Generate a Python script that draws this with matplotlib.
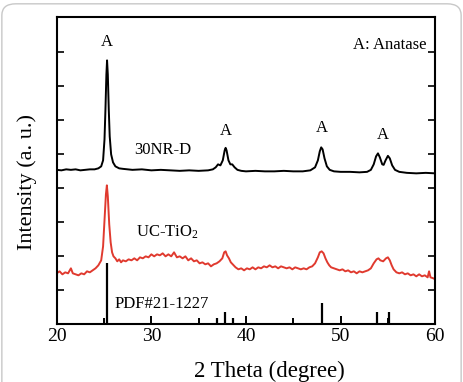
import matplotlib
matplotlib.use("Agg")
import matplotlib.pyplot as plt
from matplotlib.patches import FancyBboxPatch

plt.rcParams["font.family"] = ["Liberation Serif", "DejaVu Serif"]
plt.rcParams["mathtext.default"] = "regular"

# --- data (arbitrary intensity units)
nr_x = [20.0, 20.5, 21.0, 21.5, 22.0, 22.5, 23.0, 23.5, 24.0, 24.4, 24.7, 24.9,
        25.05, 25.15, 25.25, 25.32, 25.4, 25.5, 25.6, 25.75, 25.95, 26.2, 26.6,
        27.0, 27.5, 28.0, 29.0, 30.0, 31.0, 32.0, 33.0, 34.0, 35.0, 36.0, 36.5,
        36.8, 37.05, 37.3, 37.55, 37.75, 37.85, 37.95, 38.15, 38.35, 38.55, 38.8,
        39.1, 39.5, 40.0, 41.0, 42.0, 43.0, 44.0, 45.0, 46.0, 46.8, 47.3, 47.6,
        47.8, 47.95, 48.1, 48.3, 48.55, 48.85, 49.3, 50.0, 51.0, 52.0, 52.8, 53.2,
        53.5, 53.75, 53.95, 54.15, 54.4, 54.55, 54.75, 55.0, 55.2, 55.45, 55.75,
        56.2, 57.0, 58.0, 59.0, 60.0]
nr_y = [154.5, 154, 155, 154.5, 155, 154, 154.5, 155, 155, 156, 158, 164,
        185, 215, 250, 264, 250, 215, 188, 170, 162, 158, 156,
        155.5, 155, 154.5, 155, 154, 154.5, 154, 153.5, 154, 153.5, 154, 155,
        157, 160, 159, 164, 174, 176.5, 174, 164, 160, 160, 157,
        154.5, 153.5, 153, 153.5, 153, 153, 153.5, 153, 153, 154, 157, 164,
        173, 177, 175, 166, 158, 154.5, 153, 152.5, 152.5, 152, 152.5, 154.5,
        160, 168, 171, 167, 160, 159.5, 164, 168.5, 166, 159, 154.5,
        152.5, 151.5, 151, 151.5, 151]

uc_x = [20.0, 20.3, 20.6, 20.9, 21.2, 21.5, 21.7, 22.0, 22.3, 22.6, 22.9, 23.2,
        23.5, 23.8, 24.1, 24.4, 24.7, 24.9, 25.05, 25.2, 25.3, 25.4, 25.55, 25.7,
        25.85, 26.0, 26.2, 26.4, 26.6, 26.8, 27.0, 27.3, 27.6, 27.9, 28.2, 28.5,
        28.8, 29.1, 29.4, 29.7, 30.0, 30.3, 30.6, 30.9, 31.2, 31.5, 31.8, 32.1,
        32.4, 32.7, 33.0, 33.3, 33.6, 33.9, 34.2, 34.5, 34.8, 35.1, 35.4, 35.7,
        36.0, 36.3, 36.6, 36.9, 37.2, 37.5, 37.7, 37.85, 38.0, 38.2, 38.4, 38.6,
        38.9, 39.2, 39.5, 39.8, 40.1, 40.4, 40.7, 41.0, 41.3, 41.6, 41.9, 42.2,
        42.5, 42.8, 43.1, 43.4, 43.7, 44.0, 44.3, 44.6, 44.9, 45.2, 45.5, 45.8,
        46.1, 46.4, 46.7, 47.0, 47.3, 47.6, 47.8, 48.0, 48.2, 48.4, 48.6, 48.8,
        49.0, 49.3, 49.6, 49.9, 50.2, 50.5, 50.8, 51.1, 51.4, 51.7, 52.0, 52.3,
        52.6, 52.9, 53.2, 53.5, 53.8, 54.0, 54.2, 54.5, 54.8, 55.0, 55.2, 55.4,
        55.6, 55.9, 56.2, 56.5, 56.8, 57.1, 57.4, 57.7, 58.0, 58.3, 58.6, 58.9,
        59.2, 59.35, 59.5, 59.8, 60.0]
uc_y = [51, 53, 50, 52, 51, 56, 51, 50, 49, 51, 50, 53,
        52, 54, 56, 59, 64, 78, 105, 130, 139, 128, 100, 82,
        72, 68, 66, 63, 65, 62, 64, 63, 65, 64, 66, 64,
        67, 66, 68, 67, 70, 68, 70, 69, 71, 68, 70, 68,
        72, 67, 68, 66, 68, 64, 66, 63, 64, 61, 62, 60,
        61, 58, 60, 61, 63, 66, 72, 73, 69, 66, 62, 60,
        57, 55, 56, 54, 56, 55, 57, 55, 57, 56, 58, 57,
        59, 57, 58, 56, 58, 57, 56, 57, 55, 57, 56, 55,
        56, 55, 57, 58, 61, 67, 72, 73, 71, 66, 62, 59,
        57, 56, 55, 54, 55, 53, 54, 52, 53, 51, 53, 52,
        53, 54, 56, 61, 65, 66, 64, 63, 66, 67, 64, 59,
        55, 52, 51, 52, 50, 51, 49, 50, 48, 50, 48, 49,
        47, 53, 47, 46, 45]

# PDF#21-1227 reference lines
pdf_pos = [25.3, 36.95, 37.8, 38.6, 48.05, 53.9, 55.1]
pdf_height = [61, 6, 12, 6, 21, 12, 12]

# peak markers
peak_x = [25.3, 37.85, 48.0, 54.5]
peak_y = [282, 193, 196, 189]


fig = plt.figure(figsize=(4.63, 3.82), dpi=100)
ax = fig.add_axes([0.1225, 0.151, 0.8175, 0.8035])

# rounded frame around the whole picture
fig.patches.append(FancyBboxPatch((0.004, -0.05), 0.992, 1.04,
                                  boxstyle="round,pad=0,rounding_size=0.03",
                                  transform=fig.transFigure, fill=False,
                                  edgecolor="#c8c8c8", linewidth=1.0))

ax.plot(nr_x, nr_y, color="black", lw=1.4)
ax.plot(uc_x, uc_y, color="#e03a2f", lw=1.4)
ax.vlines(pdf_pos, 0, pdf_height, color="black", lw=1.6)

for px, py in zip(peak_x, peak_y):
    ax.text(px, py, "A", ha="center", va="center", fontsize=12)

ax.text(59.1, 279, "A: Anatase", ha="right", va="center", fontsize=12)
ax.text(31.2, 174, "30NR-D", ha="center", va="center", fontsize=12)
ax.text(28.4, 92, "UC-TiO$_2$", ha="left", va="center", fontsize=12)
ax.text(26.1, 20, "PDF#21-1227", ha="left", va="center", fontsize=12)

ax.set_xlim(20, 60)
ax.set_ylim(0, 307)
ax.set_xticks([20, 30, 40, 50, 60])
ax.set_xticks([25, 35, 45, 55], minor=True)
ax.set_yticks([34 * i for i in range(1, 9)])
ax.set_yticklabels([])

ax.tick_params(axis="x", which="major", direction="in", length=6, width=1.4,
               labelsize=14, pad=3, top=False)
ax.tick_params(axis="x", which="minor", direction="in", length=4, width=1.4,
               top=False)
ax.tick_params(axis="y", direction="in", length=5, width=1.2, left=True,
               right=True)
for sp in ax.spines.values():
    sp.set_linewidth(1.5)

ax.set_xlabel("2 Theta (degree)", fontsize=16.5)
ax.xaxis.set_label_coords(0.562, -0.118)
ax.set_ylabel("Intensity (a. u.)", fontsize=16)
ax.yaxis.set_label_coords(-0.052, 0.465)

fig.savefig("out.png", dpi=100)
